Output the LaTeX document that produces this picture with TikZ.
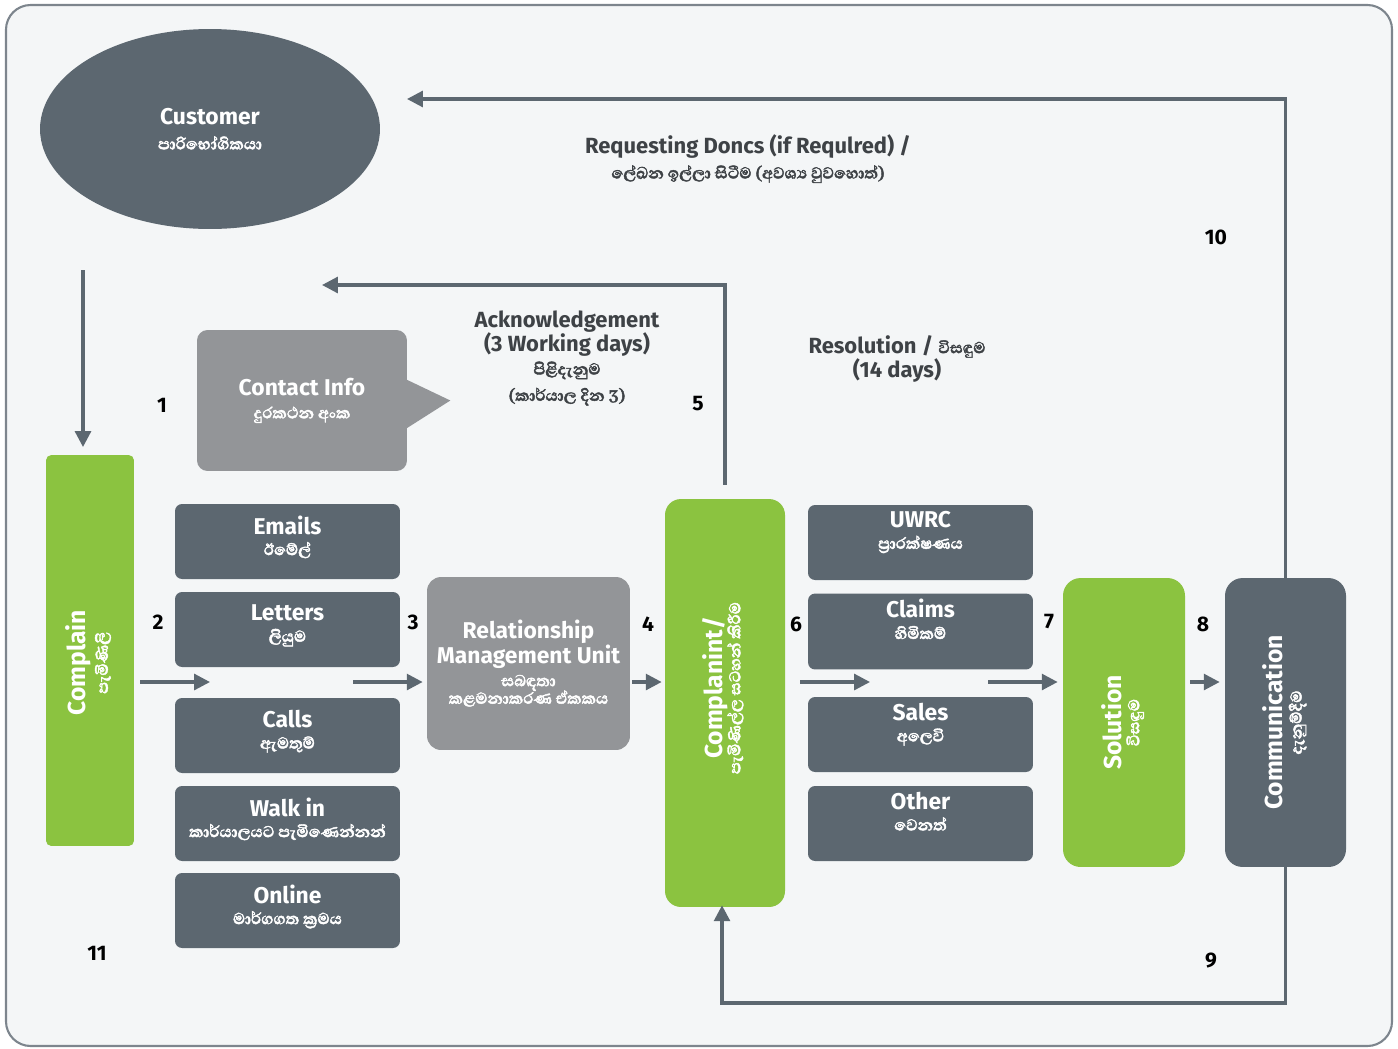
\documentclass[tikz,border=0pt]{standalone}
\usepackage{graphicx}
\usepackage{fontspec}
\setmainfont{Fira Sans}
\newfontfamily\sinfont[Script=Sinhala, FakeBold=2]{Abhaya Libre}
\newcommand\sitx[1]{{\sinfont\fontsize{11.5}{12}\selectfont #1}}
\definecolor{fcslate}{RGB}{92,103,112}
\definecolor{fcgreen}{RGB}{139,195,64}
\definecolor{fcgray}{RGB}{147,149,152}
\definecolor{fctext}{RGB}{62,66,70}
\definecolor{fcback}{RGB}{244,246,247}
\usetikzlibrary{arrows.meta,positioning,shapes.geometric,calc}

\begin{document}
\begin{tikzpicture}[x=0.02cm, y=-0.02cm,
  chan/.style={
    rectangle, rounded corners=4pt,
    minimum width=4.5cm, minimum height=1.5cm,
    fill=fcslate, text=white, align=center,
    font=\bfseries\fontsize{13}{12}\selectfont
  },
  stage/.style={
    rectangle, inner sep=0pt, text=white, align=center,
    font=\bfseries\fontsize{14}{13}\selectfont
  },
  conn/.style={-{Triangle[length=9pt,width=9pt]}, line width=1.8pt, draw=fcslate},
  note/.style={text=fctext, align=center, font=\bfseries\fontsize{12.5}{14}\selectfont},
  num/.style={text=black, font=\bfseries\fontsize{12}{12}\selectfont}
]
\useasboundingbox (0,0) rectangle (1398,1048);
\draw[fcslate!80, line width=1.2pt, fill=fcback, rounded corners=14pt] (6,5) rectangle (1392,1046);

\node[ellipse, fill=fcslate, minimum width=6.8cm, minimum height=4cm, text=white, align=center,
  font=\bfseries\fontsize{13}{14}\selectfont] (cust) at (210,129) {Customer\\\sitx{පාරිභෝගිකයා}};

\node[stage, fill=fcgreen, rounded corners=3pt, minimum width=1.76cm, minimum height=7.82cm] (cmp) at (90,650.5)
  {\rotatebox{90}{\begin{tabular}{@{}c@{\hspace{14pt}}}Complain\\\sitx{පැමිණිලි}\end{tabular}}};

\node[rectangle, rounded corners=6pt, fill=fcgray, minimum width=4.2cm, minimum height=2.82cm, text=white,
  align=center, font=\bfseries\fontsize{13}{13}\selectfont] (cinfo) at (302,400.5) {Contact Info\\\sitx{දුරකථන අංක}};
\fill[fcgray] ($(cinfo.east)+(-1,-21)$) -- ($(cinfo.east)+(43,0)$) -- ($(cinfo.east)+(-1,28)$) -- cycle;

\node[chan, text depth=7pt] (em) at (287.5,541.5) {Emails\\\sitx{ඊමේල්}};
\node[chan, text depth=7pt] (let) at (287.5,629.5) {Letters\\\sitx{ලියුම}};
\node[chan, text depth=7pt] (cal) at (287.5,735.5) {Calls\\\sitx{ඇමතුම්}};
\node[chan, text depth=7pt] (walk) at (287.5,823.5) {Walk in\\\sitx{කාර්යාලයට පැමිණෙන්නන්}};
\node[chan, text depth=7pt] (onl) at (287.5,910.5) {Online\\\sitx{මාර්ගගත ක්‍රමය}};

\node[rectangle, rounded corners=8pt, fill=fcgray, minimum width=4.06cm, minimum height=3.46cm, text=white,
  align=center, font=\bfseries\fontsize{13}{14}\selectfont] (rmu) at (528.5,663.5)
  {Relationship\\Management Unit\\[-1pt]\sitx{සබඳතා}\\[-4pt]\sitx{කළමනාකරණ ඒකකය}};

\node[stage, fill=fcgreen, rounded corners=9pt, minimum width=2.4cm, minimum height=8.16cm] (cpl) at (725,703)
  {\rotatebox{90}{\begin{tabular}{@{\hspace{17pt}}c@{}}Complanint/\\[-3pt]\sitx{පැමිණිල්ල සටහන් කිරීම}\end{tabular}}};

\node[chan, text depth=14pt] (uwrc) at (920.5,542.5) {UWRC\\\sitx{ප්‍රාරක්ෂණය}};
\node[chan, text depth=14pt] (clm) at (920.5,631.5) {Claims\\\sitx{හිමිකම්}};
\node[chan, text depth=14pt] (sal) at (920.5,734.5) {Sales\\\sitx{අලෙවි}};
\node[chan, text depth=14pt] (oth) at (920.5,823.5) {Other\\\sitx{වෙනත්}};

\node[stage, fill=fcgreen, rounded corners=10pt, minimum width=2.44cm, minimum height=5.78cm] (sol) at (1124,722.5)
  {\rotatebox{90}{\begin{tabular}{@{}c@{}}Solution\\[-3pt]\sitx{විසඳුම}\end{tabular}}};
\node[stage, fill=fcslate, rounded corners=10pt, minimum width=2.42cm, minimum height=5.78cm] (comm) at (1285.5,722.5)
  {\rotatebox{90}{\begin{tabular}{@{}c@{}}Communication\\[-2pt]\sitx{දැනුම්දීම}\end{tabular}}};

\coordinate (mid) at (0,682);
\coordinate (c1a) at (83,270);
\coordinate (c1b) at (83,447);
\coordinate (c2a) at (140,682);
\coordinate (c2b) at (210,682);
\coordinate (c3a) at (353,682);
\coordinate (c6a) at (800,682);
\coordinate (c6b) at (870,682);
\coordinate (c7a) at (988,682);
\coordinate (ack) at (322,285);
\coordinate (req) at (407,99);
\coordinate (bot) at (0,1003);

\draw[conn] (c1a) -- (c1b);
\draw[conn] (c2a) -- (c2b);
\draw[conn] (c3a) -- ($(rmu.west |- mid)+(-4,0)$);
\draw[conn] ($(rmu.east |- mid)+(2,0)$) -- ($(cpl.west |- mid)+(-3,0)$);
\draw[conn] ($(cpl.north)+(0,-14)$) |- (ack);
\draw[conn] (c6a) -- (c6b);
\draw[conn] (c7a) -- ($(sol.west |- mid)+(-5,0)$);
\draw[conn] ($(sol.east |- mid)+(5,0)$) -- ($(comm.west |- mid)+(-5,0)$);
\draw[conn] (comm.north) |- (req);
\draw[conn] (comm.south) -- (comm.south |- bot) -| ($(cpl.south)+(-3,-2)$);

\node[note] (reqlbl) at (748,159) {Requesting Doncs (if Requlred) /\\\sitx{ලේඛන ඉල්ලා සිටීම (අවශ්‍ය වුවහොත්)}};
\node[note] (acklbl) at (567,358) {Acknowledgement\\(3 Working days)\\[-1pt]\sitx{පිළිදැනුම}\\[1pt]\sitx{(කාර්යාල දින 3)}};
\node[note] (reslbl) at (897,359) {Resolution / \sitx{විසඳුම}\\(14 days)};

\node[num] (n1) at (162,405) {1};
\node[num] (n2) at (158,622) {2};
\node[num] (n3) at (413,622) {3};
\node[num] (n4) at (648,624) {4};
\node[num] (n5) at (698,404) {5};
\node[num] (n6) at (796,624) {6};
\node[num] (n7) at (1049,622) {7};
\node[num] (n8) at (1203,624) {8};
\node[num] (n9) at (1211,961) {9};
\node[num] (n10) at (1216,237) {10};
\node[num] (n11) at (97,953) {11};
\end{tikzpicture}
\end{document}
